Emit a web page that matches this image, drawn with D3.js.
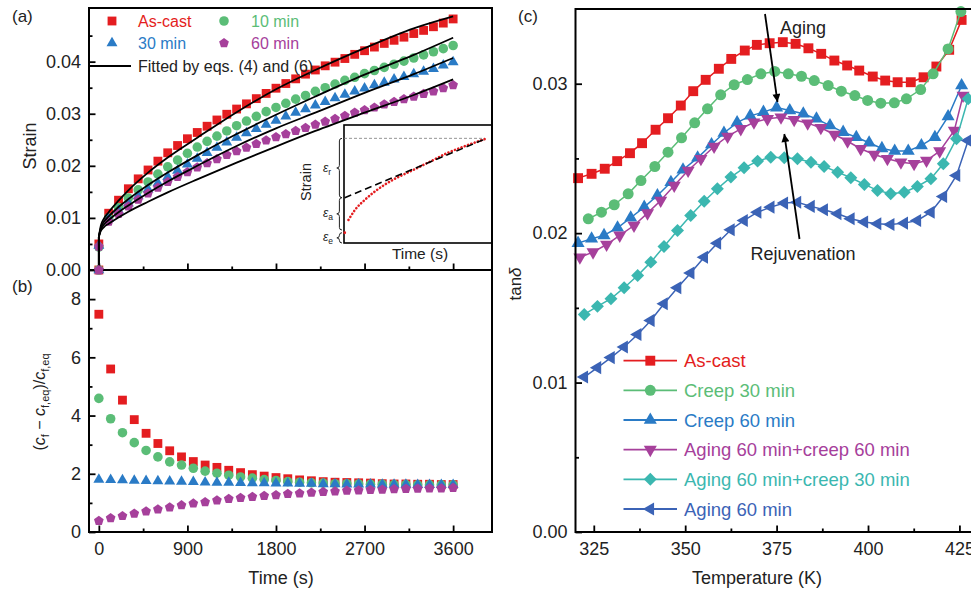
<!DOCTYPE html>
<html>
<head>
<meta charset="utf-8">
<script src="https://cdn.jsdelivr.net/npm/d3@7"></script>
<style>
  body { margin: 0; background: #fff; }
  svg { display: block; font-family: Arial, "Liberation Sans", sans-serif; }
  .tick line { stroke: #000; stroke-width: 1.8px; }
  .tick text { font-size: 18px; fill: #222; }
</style>
</head>
<body>
<div class="chart"></div>
<script>
// ---- panel (a): creep strain, markers every 100 s (first entry is the (0,0) start) ----
const timeA = [0, 0, 100, 200, 300, 400, 500, 600, 700, 800, 900, 1000, 1100, 1200, 1300, 1400, 1500, 1600, 1700, 1800,
  1900, 2000, 2100, 2200, 2300, 2400, 2500, 2600, 2700, 2800, 2900, 3000, 3100, 3200, 3300, 3400, 3500, 3600];
const strainAsCast = [0, 0.0050, 0.0109, 0.0134, 0.0156, 0.0175, 0.0192, 0.0209, 0.0225, 0.0239, 0.0252, 0.0264, 0.0276,
  0.0288, 0.0299, 0.0309, 0.0319, 0.0329, 0.0339, 0.0349, 0.0358, 0.0367, 0.0376, 0.0384, 0.0392, 0.0399, 0.0406,
  0.0414, 0.0421, 0.0428, 0.0435, 0.0441, 0.0447, 0.0454, 0.0460, 0.0467, 0.0474, 0.0482];
const strain10 = [0, 0.0044, 0.0100, 0.0120, 0.0138, 0.0154, 0.0169, 0.0184, 0.0198, 0.0211, 0.0224, 0.0236, 0.0247,
  0.0257, 0.0267, 0.0277, 0.0286, 0.0295, 0.0304, 0.0312, 0.0320, 0.0328, 0.0335, 0.0343, 0.0350, 0.0357, 0.0364,
  0.0370, 0.0377, 0.0383, 0.0389, 0.0395, 0.0401, 0.0407, 0.0413, 0.0419, 0.0425, 0.0431];
const strain30 = [0, 0.0047, 0.0098, 0.0114, 0.0128, 0.0142, 0.0155, 0.0167, 0.0179, 0.0191, 0.0203, 0.0214, 0.0225,
  0.0235, 0.0245, 0.0254, 0.0263, 0.0271, 0.0279, 0.0287, 0.0295, 0.0302, 0.0309, 0.0316, 0.0323, 0.0330, 0.0337,
  0.0343, 0.0349, 0.0355, 0.0360, 0.0366, 0.0371, 0.0376, 0.0381, 0.0386, 0.0393, 0.0399];
const strain60 = [0, 0.0045, 0.0093, 0.0108, 0.0122, 0.0135, 0.0147, 0.0158, 0.0169, 0.0179, 0.0188, 0.0197, 0.0205,
  0.0213, 0.0221, 0.0228, 0.0235, 0.0242, 0.0249, 0.0255, 0.0261, 0.0267, 0.0273, 0.0279, 0.0285, 0.0290, 0.0296,
  0.0302, 0.0307, 0.0312, 0.0318, 0.0323, 0.0328, 0.0333, 0.0338, 0.0343, 0.0349, 0.0355];

// fitted curves (eqs. 4 and 6)
const fitTime = [0, 0, 20, 50, 100, 200, 300, 500, 700, 1000, 1400, 1800, 2200, 2700, 3200, 3600];
const fitAsCast = [0, 0.0064, 0.0085, 0.0098, 0.0111, 0.0133, 0.0153, 0.0187, 0.0216, 0.0254, 0.0303, 0.0347, 0.0384, 0.0426, 0.0464, 0.0487];
const fit10 = [0, 0.0064, 0.0081, 0.0092, 0.0103, 0.0121, 0.0136, 0.0163, 0.0187, 0.0220, 0.0261, 0.0298, 0.0333, 0.0375, 0.0413, 0.0446];
const fit30 = [0, 0.0064, 0.0078, 0.0087, 0.0096, 0.0111, 0.0124, 0.0148, 0.0170, 0.0200, 0.0238, 0.0272, 0.0302, 0.0340, 0.0376, 0.0407];
const fit60 = [0, 0.0064, 0.0075, 0.0082, 0.0089, 0.0101, 0.0112, 0.0131, 0.0149, 0.0174, 0.0206, 0.0237, 0.0267, 0.0302, 0.0336, 0.0366];

// inset schematic (unitless 0..1)
const insetCurveX = [0.030, 0.074, 0.142, 0.232, 0.345, 0.468, 0.581, 0.694, 0.806, 0.953];
const insetCurveY = [0.195, 0.280, 0.367, 0.458, 0.545, 0.619, 0.689, 0.760, 0.816, 0.881];
const insetElastic = [0.005, 0.087];
const insetTangentX = [0.005, 0.953];
const insetTangentY = [0.384, 0.881];
const insetLevels = [0.887, 0.384, 0.11, 0.087, 0];
const insetLabels = ["r", "a", "e"];

// ---- panel (b): (cf - cf,eq)/cf,eq, markers every 120 s ----
const timeB = [0, 120, 240, 360, 480, 600, 720, 840, 960, 1080, 1200, 1320, 1440, 1560, 1680, 1800, 1920, 2040, 2160,
  2280, 2400, 2520, 2640, 2760, 2880, 3000, 3120, 3240, 3360, 3480, 3600];
const cfAsCast = [7.48, 5.60, 4.53, 3.86, 3.39, 3.04, 2.79, 2.58, 2.42, 2.30, 2.22, 2.12, 2.04, 1.97, 1.92, 1.87, 1.83,
  1.79, 1.76, 1.73, 1.71, 1.70, 1.69, 1.68, 1.66, 1.65, 1.65, 1.64, 1.64, 1.63, 1.63];
const cf10 = [4.59, 3.89, 3.41, 3.07, 2.80, 2.58, 2.41, 2.30, 2.19, 2.09, 2.02, 1.95, 1.89, 1.85, 1.80, 1.77, 1.73,
  1.71, 1.69, 1.68, 1.66, 1.66, 1.65, 1.64, 1.64, 1.63, 1.63, 1.62, 1.62, 1.62, 1.62];
const cf30 = [1.80, 1.79, 1.78, 1.77, 1.76, 1.75, 1.74, 1.73, 1.72, 1.71, 1.70, 1.70, 1.69, 1.68, 1.68, 1.67, 1.67,
  1.66, 1.66, 1.65, 1.65, 1.64, 1.64, 1.64, 1.63, 1.63, 1.63, 1.62, 1.62, 1.62, 1.62];
const cf60 = [0.38, 0.48, 0.55, 0.63, 0.71, 0.78, 0.85, 0.92, 0.98, 1.03, 1.09, 1.14, 1.17, 1.21, 1.24, 1.27, 1.31,
  1.33, 1.35, 1.38, 1.40, 1.42, 1.43, 1.45, 1.46, 1.47, 1.48, 1.49, 1.50, 1.50, 1.52];

const namesAB = ["As-cast", "10 min", "30 min", "60 min"];
const timeTicks = [0, 900, 1800, 2700, 3600];

// ---- panel (c): tan delta vs temperature ----
const tempAsCast = [320.7, 324.4, 328.0, 331.4, 334.9, 338.2, 341.9, 345.3, 348.8, 352.2, 355.6, 359.2, 362.6, 366.3,
  369.6, 373.1, 376.7, 380.2, 383.7, 387.2, 390.8, 394.3, 397.6, 401.3, 404.7, 408.1, 411.7, 415.2, 418.7, 422.2, 425.6];
const tanAsCast = [0.02368, 0.02397, 0.02431, 0.02482, 0.02535, 0.02602, 0.02692, 0.02769, 0.02854, 0.02950, 0.03026,
  0.03100, 0.03166, 0.03222, 0.03260, 0.03271, 0.03278, 0.03267, 0.03237, 0.03200, 0.03155, 0.03122, 0.03088, 0.03048,
  0.03021, 0.03010, 0.03010, 0.03043, 0.03115, 0.03227, 0.03427];
const tempCreep30 = [323.5, 327.1, 330.6, 334.4, 337.9, 341.7, 345.3, 349.0, 352.6, 356.1, 359.7, 363.4, 367.0, 370.7,
  374.5, 378.2, 381.8, 385.3, 389.1, 392.7, 396.4, 399.9, 403.5, 407.2, 410.5, 414.4, 417.8, 421.9, 425.4];
const tanCreep30 = [0.02096, 0.02140, 0.02190, 0.02263, 0.02352, 0.02446, 0.02542, 0.02638, 0.02738, 0.02832, 0.02926,
  0.02993, 0.03028, 0.03066, 0.03082, 0.03066, 0.03050, 0.03021, 0.02988, 0.02950, 0.02921, 0.02888, 0.02870, 0.02872,
  0.02899, 0.02961, 0.03066, 0.03233, 0.03483];
const tempCreep60 = [320.7, 324.4, 327.8, 331.5, 335.1, 338.8, 342.4, 346.1, 349.4, 353.4, 357.2, 360.6, 364.2, 367.8,
  371.4, 375.0, 378.6, 382.3, 385.9, 389.6, 393.2, 396.8, 400.3, 403.8, 407.3, 411.0, 414.6, 418.3, 421.9, 425.6];
const tanCreep60 = [0.01933, 0.01962, 0.01985, 0.02036, 0.02103, 0.02174, 0.02252, 0.02341, 0.02424, 0.02504, 0.02593,
  0.02670, 0.02740, 0.02785, 0.02810, 0.02840, 0.02821, 0.02799, 0.02765, 0.02720, 0.02676, 0.02642, 0.02605, 0.02567,
  0.02550, 0.02550, 0.02587, 0.02642, 0.02780, 0.02988];
const tempAgeCreep60 = [321.2, 324.8, 328.5, 332.1, 336.0, 339.7, 343.3, 347.0, 350.8, 354.3, 357.9, 361.6, 365.2, 368.8,
  372.5, 376.2, 379.8, 383.5, 387.1, 390.8, 394.4, 398.0, 401.7, 405.3, 409.0, 412.6, 416.0, 419.6, 423.6, 426.0];
const tanAgeCreep60 = [0.01839, 0.01873, 0.01924, 0.01985, 0.02051, 0.02134, 0.02219, 0.02319, 0.02419, 0.02498, 0.02580,
  0.02647, 0.02698, 0.02742, 0.02765, 0.02776, 0.02759, 0.02736, 0.02705, 0.02660, 0.02615, 0.02565, 0.02526, 0.02498,
  0.02475, 0.02464, 0.02486, 0.02549, 0.02687, 0.02921];
const tempAgeCreep30 = [322.4, 326.0, 329.7, 333.3, 337.0, 340.6, 344.2, 347.9, 351.5, 355.2, 358.8, 362.5, 366.1, 369.8,
  373.4, 377.1, 380.7, 384.4, 388.0, 391.7, 395.3, 399.0, 402.6, 406.2, 409.9, 413.5, 417.2, 420.6, 424.2, 427.4];
const tanAgeCreep30 = [0.01456, 0.01510, 0.01561, 0.01635, 0.01717, 0.01806, 0.01911, 0.02018, 0.02118, 0.02214, 0.02297,
  0.02375, 0.02437, 0.02482, 0.02508, 0.02504, 0.02498, 0.02475, 0.02446, 0.02408, 0.02371, 0.02326, 0.02286, 0.02264,
  0.02274, 0.02312, 0.02364, 0.02464, 0.02632, 0.02899];
const tempAging60 = [322.4, 326.0, 329.7, 333.3, 337.0, 340.6, 344.2, 347.9, 351.5, 355.2, 358.8, 362.5, 366.1, 369.8,
  373.4, 377.1, 380.7, 384.4, 388.0, 391.7, 395.3, 399.0, 402.6, 406.2, 409.9, 413.5, 417.2, 420.6, 424.2, 427.4];
const tanAging60 = [0.01037, 0.01100, 0.01167, 0.01238, 0.01322, 0.01416, 0.01528, 0.01635, 0.01733, 0.01839, 0.01933,
  0.02023, 0.02085, 0.02140, 0.02174, 0.02201, 0.02207, 0.02179, 0.02157, 0.02130, 0.02096, 0.02074, 0.02063, 0.02058,
  0.02067, 0.02085, 0.02140, 0.02245, 0.02386, 0.02620];
const namesC = ["As-cast", "Creep 30 min", "Creep 60 min", "Aging 60 min+creep 60 min", "Aging 60 min+creep 30 min", "Aging 60 min"];
const tempTicks = [325, 350, 375, 400, 425];
const tanTicks = [0, 0.01, 0.02, 0.03];

const RED = "#e41d20", GREEN = "#5bbd77", BLUE = "#2a7bc6", PURPLE = "#a6409b", TEAL = "#3bb7b0", NAVY = "#3b63b6";

const symbolPentagon = {
  draw(ctx, size) {
    const r = Math.sqrt(size / 2.3776);
    for (let i = 0; i < 5; i++) {
      const a = -Math.PI / 2 + i * 2 * Math.PI / 5;
      if (i) ctx.lineTo(r * Math.cos(a), r * Math.sin(a)); else ctx.moveTo(r * Math.cos(a), r * Math.sin(a));
    }
    ctx.closePath();
  }
};

const W = 971, H = 592;
const svg = d3.select(".chart").append("svg").attr("width", W).attr("height", H);

svg.append("defs").append("marker")
  .attr("id", "arrow").attr("markerUnits", "userSpaceOnUse")
  .attr("viewBox", "0 0 10 10").attr("refX", 10).attr("refY", 5)
  .attr("markerWidth", 11).attr("markerHeight", 8).attr("orient", "auto")
  .append("path").attr("d", "M0,0 L10,5 L0,10 Z").attr("fill", "#000");

function yAxis(scale, x, major, minor, fmt) {
  svg.append("g").attr("transform", `translate(${x},0)`)
    .call(d3.axisLeft(scale).tickValues(minor).tickSize(-3.5).tickFormat(""))
    .call(g => g.select(".domain").remove());
  svg.append("g").attr("transform", `translate(${x},0)`)
    .call(d3.axisLeft(scale).tickValues(major).tickSize(-6.5).tickPadding(8).tickFormat(fmt))
    .call(g => g.select(".domain").remove());
}
function xAxis(scale, y, major, minor, labels) {
  svg.append("g").attr("transform", `translate(0,${y})`)
    .call(d3.axisBottom(scale).tickValues(minor).tickSize(-3.5).tickFormat(""))
    .call(g => g.select(".domain").remove());
  svg.append("g").attr("transform", `translate(0,${y})`)
    .call(d3.axisBottom(scale).tickValues(major).tickSize(-6.5).tickPadding(10).tickFormat(labels ? d3.format("d") : ""))
    .call(g => g.select(".domain").remove());
}
function symbolPath(type, size) { return d3.symbol().type(type).size(size)(); }

// ================= panel (a) =================
const xT = d3.scaleLinear().domain([-100, 3995]).range([89, 492]);
const yA = d3.scaleLinear().domain([0, 0.0503]).range([270, 8]);
const yB = d3.scaleLinear().domain([0, 9]).range([532, 270]);

const seriesA = [
  { v: strainAsCast, fit: fitAsCast, cf: cfAsCast, color: RED, type: d3.symbolSquare, size: 78 },
  { v: strain10, fit: fit10, cf: cf10, color: GREEN, type: d3.symbolCircle, size: 72 },
  { v: strain30, fit: fit30, cf: cf30, color: BLUE, type: d3.symbolTriangle, size: 52 },
  { v: strain60, fit: fit60, cf: cf60, color: PURPLE, type: symbolPentagon, size: 62 }
];

// markers
seriesA.forEach(s => {
  svg.append("g").selectAll("path").data(timeA).join("path")
    .attr("transform", (t, i) => `translate(${xT(t)},${yA(s.v[i])})`)
    .attr("d", symbolPath(s.type, s.size)).attr("fill", s.color);
});

// fitted curves: vertical jump at t=0, then smooth curve
const fitLine = d3.line().x(d => xT(d[0])).y(d => yA(d[1])).curve(d3.curveMonotoneX);
seriesA.forEach(s => {
  const pts = fitTime.map((t, i) => [t, s.fit[i]]);
  svg.append("path").attr("d", `M${xT(0)},${yA(0)}L${xT(0)},${yA(s.fit[1])}`)
    .attr("stroke", "#000").attr("stroke-width", 1.8).attr("fill", "none");
  svg.append("path").attr("d", fitLine(pts.slice(1)))
    .attr("stroke", "#000").attr("stroke-width", 1.8).attr("fill", "none");
});

// legend (a)
const legA = [[112, 21, 138], [224, 21, 251], [112, 43, 138], [224, 43, 251]];
seriesA.forEach((s, i) => {
  const p = legA[i];
  svg.append("path").attr("transform", `translate(${p[0]},${p[1]})`)
    .attr("d", symbolPath(s.type, s.size)).attr("fill", s.color);
  svg.append("text").attr("x", p[2]).attr("y", p[1]).attr("dy", "0.36em")
    .attr("font-size", 16).attr("fill", s.color).text(namesAB[i]);
});
svg.append("line").attr("x1", 90).attr("x2", 131).attr("y1", 66).attr("y2", 66)
  .attr("stroke", "#000").attr("stroke-width", 1.8);
svg.append("text").attr("x", 138).attr("y", 66).attr("dy", "0.36em")
  .attr("font-size", 16).attr("fill", "#222").text("Fitted by eqs. (4) and (6)");

// inset
const ix = d3.scaleLinear().domain([0, 1]).range([344, 492]);
const iy = d3.scaleLinear().domain([0, 1]).range([243, 125]);
svg.append("rect").attr("x", 344).attr("y", 125).attr("width", 148).attr("height", 118)
  .attr("fill", "#fff").attr("stroke", "#000").attr("stroke-width", 1.6);
svg.append("line").attr("x1", ix(0)).attr("x2", ix(insetCurveX[insetCurveX.length - 1]))
  .attr("y1", iy(insetLevels[0])).attr("y2", iy(insetLevels[0]))
  .attr("stroke", "#777").attr("stroke-width", 0.8).attr("stroke-dasharray", "3,2");
svg.append("path")
  .attr("d", d3.line().x(d => ix(d[0])).y(d => iy(d[1])).curve(d3.curveMonotoneX)(insetCurveX.map((x, i) => [x, insetCurveY[i]])))
  .attr("fill", "none").attr("stroke", RED).attr("stroke-width", 2.6)
  .attr("stroke-linecap", "round").attr("stroke-dasharray", "0.1,3.4");
svg.append("circle").attr("cx", ix(insetElastic[0])).attr("cy", iy(insetElastic[1])).attr("r", 1.4).attr("fill", RED);
svg.append("line").attr("x1", ix(insetTangentX[0])).attr("x2", ix(insetTangentX[1]))
  .attr("y1", iy(insetTangentY[0])).attr("y2", iy(insetTangentY[1]))
  .attr("stroke", "#000").attr("stroke-width", 1.5).attr("stroke-dasharray", "7,4");

function brace(x, y1, y2, w) {
  w = Math.min(w, (y2 - y1) / 4);
  const m = (y1 + y2) / 2;
  return `M${x},${y1}Q${x - w},${y1} ${x - w},${y1 + w}L${x - w},${m - w}Q${x - w},${m} ${x - 2 * w},${m}` +
    `Q${x - w},${m} ${x - w},${m + w}L${x - w},${y2 - w}Q${x - w},${y2} ${x},${y2}`;
}
[[0, 1], [1, 2], [3, 4]].forEach((pair, i) => {
  const y1 = iy(insetLevels[pair[0]]), y2 = iy(insetLevels[pair[1]]);
  svg.append("path").attr("d", brace(342, y1, y2, 2.6))
    .attr("fill", "none").attr("stroke", "#222").attr("stroke-width", 1);
  const t = svg.append("text").attr("x", 323).attr("y", (y1 + y2) / 2).attr("dy", "0.3em")
    .attr("font-size", 12).attr("fill", "#222").attr("font-style", "italic");
  t.append("tspan").text("ε");
  t.append("tspan").attr("dy", 3).attr("font-size", 8.5).attr("font-style", "normal").text(insetLabels[i]);
});
svg.append("text").attr("transform", "translate(311,182) rotate(-90)").attr("text-anchor", "middle")
  .attr("font-size", 14.5).attr("fill", "#222").text("Strain");
svg.append("text").attr("x", 420).attr("y", 259).attr("text-anchor", "middle")
  .attr("font-size", 15.5).attr("fill", "#222").text("Time (s)");

yAxis(yA, 89, [0, 0.01, 0.02, 0.03, 0.04], [0.005, 0.015, 0.025, 0.035, 0.045], d3.format(".2f"));
xAxis(xT, 270, timeTicks, [450, 1350, 2250, 3150], false);

// ================= panel (b) =================
seriesA.forEach(s => {
  svg.append("g").selectAll("path").data(timeB).join("path")
    .attr("transform", (t, i) => `translate(${xT(t)},${yB(s.cf[i])})`)
    .attr("d", symbolPath(s.type, s.size)).attr("fill", s.color);
});
yAxis(yB, 89, [0, 2, 4, 6, 8], [1, 3, 5, 7], d3.format("d"));
xAxis(xT, 532, timeTicks, [450, 1350, 2250, 3150], true);

svg.append("rect").attr("x", 89).attr("y", 8).attr("width", 403).attr("height", 262)
  .attr("fill", "none").attr("stroke", "#000").attr("stroke-width", 2);
svg.append("rect").attr("x", 89).attr("y", 270).attr("width", 403).attr("height", 262)
  .attr("fill", "none").attr("stroke", "#000").attr("stroke-width", 2);
// purple start point sits on the shared border
svg.append("path").attr("transform", `translate(${xT(timeA[0])},${yA(strain60[0])})`)
  .attr("d", symbolPath(symbolPentagon, 62)).attr("fill", PURPLE);

svg.append("text").attr("x", 281).attr("y", 584).attr("text-anchor", "middle")
  .attr("font-size", 18).attr("fill", "#222").text("Time (s)");
svg.append("text").attr("transform", "translate(36,146) rotate(-90)").attr("text-anchor", "middle")
  .attr("font-size", 18).attr("fill", "#222").text("Strain");

// (cf - cf,eq)/cf,eq label
const cfLabel = svg.append("text").attr("transform", "translate(45,402) rotate(-90)")
  .attr("text-anchor", "middle").attr("font-size", 16).attr("fill", "#222");
cfLabel.append("tspan").text("(");
cfLabel.append("tspan").attr("font-style", "italic").text("c");
cfLabel.append("tspan").attr("font-size", 11).attr("dy", 4).text("f");
cfLabel.append("tspan").attr("dy", -4).text(" − ");
cfLabel.append("tspan").attr("font-style", "italic").text("c");
cfLabel.append("tspan").attr("font-size", 11).attr("dy", 4).text("f,eq");
cfLabel.append("tspan").attr("dy", -4).text(")/");
cfLabel.append("tspan").attr("font-style", "italic").text("c");
cfLabel.append("tspan").attr("font-size", 11).attr("dy", 4).text("f,eq");

svg.append("text").attr("x", 12).attr("y", 22).attr("font-size", 17).attr("fill", "#222").text("(a)");
svg.append("text").attr("x", 12).attr("y", 292).attr("font-size", 17).attr("fill", "#222").text("(b)");

// ================= panel (c) =================
const xC = d3.scaleLinear().domain([320, 430]).range([575.5, 977.7]);
const yC = d3.scaleLinear().domain([0, 0.035]).range([532, 9]);

const seriesC = [
  { T: tempAsCast, v: tanAsCast, color: RED, type: d3.symbolSquare, size: 98, rot: 0 },
  { T: tempCreep30, v: tanCreep30, color: GREEN, type: d3.symbolCircle, size: 95, rot: 0 },
  { T: tempCreep60, v: tanCreep60, color: BLUE, type: d3.symbolTriangle, size: 74, rot: 0 },
  { T: tempAgeCreep60, v: tanAgeCreep60, color: PURPLE, type: d3.symbolTriangle, size: 74, rot: 180 },
  { T: tempAgeCreep30, v: tanAgeCreep30, color: TEAL, type: d3.symbolSquare, size: 84, rot: 45 },
  { T: tempAging60, v: tanAging60, color: NAVY, type: d3.symbolTriangle, size: 74, rot: -90 }
];
const lineC = d3.line().x(d => xC(d[0])).y(d => yC(d[1]));
seriesC.forEach(s => {
  const pts = s.T.map((t, i) => [t, s.v[i]]);
  svg.append("path").attr("d", lineC(pts)).attr("fill", "none")
    .attr("stroke", s.color).attr("stroke-width", 1.5);
  svg.append("g").selectAll("path").data(pts).join("path")
    .attr("transform", d => `translate(${xC(d[0])},${yC(d[1])}) rotate(${s.rot})`)
    .attr("d", symbolPath(s.type, s.size)).attr("fill", s.color);
});

// legend (c)
const legY = [360.7, 390.3, 420, 449.6, 479.3, 509];
seriesC.forEach((s, i) => {
  svg.append("line").attr("x1", 623.5).attr("x2", 677).attr("y1", legY[i]).attr("y2", legY[i])
    .attr("stroke", s.color).attr("stroke-width", 1.8);
  svg.append("path").attr("transform", `translate(650.3,${legY[i]}) rotate(${s.rot})`)
    .attr("d", symbolPath(s.type, s.size)).attr("fill", s.color);
  svg.append("text").attr("x", 684).attr("y", legY[i]).attr("dy", "0.36em")
    .attr("font-size", 18.5).attr("fill", s.color).text(namesC[i]);
});

// annotations
svg.append("line").attr("x1", 765).attr("y1", 14).attr("x2", 777.5).attr("y2", 102)
  .attr("stroke", "#000").attr("stroke-width", 1.8).attr("marker-end", "url(#arrow)");
svg.append("text").attr("x", 780).attr("y", 34).attr("font-size", 18).attr("fill", "#222").text("Aging");
svg.append("line").attr("x1", 799.5).attr("y1", 239).attr("x2", 784.3).attr("y2", 134)
  .attr("stroke", "#000").attr("stroke-width", 1.8).attr("marker-end", "url(#arrow)");
svg.append("text").attr("x", 750.5).attr("y", 260).attr("font-size", 18).attr("fill", "#222").text("Rejuvenation");

yAxis(yC, 575.5, tanTicks, [0.005, 0.015, 0.025], d3.format(".2f"));
xAxis(xC, 532, tempTicks, [337.5, 362.5, 387.5, 412.5], true);
svg.append("rect").attr("x", 575.5).attr("y", 9).attr("width", 430).attr("height", 523)
  .attr("fill", "none").attr("stroke", "#000").attr("stroke-width", 2);

svg.append("text").attr("x", 757).attr("y", 584).attr("text-anchor", "middle")
  .attr("font-size", 18).attr("fill", "#222").text("Temperature (K)");
const tanLabel = svg.append("text").attr("transform", "translate(521,284) rotate(-90)")
  .attr("text-anchor", "middle").attr("font-size", 17).attr("fill", "#222");
tanLabel.append("tspan").text("tan");
tanLabel.append("tspan").attr("font-style", "italic").text("δ");
svg.append("text").attr("x", 518).attr("y", 22).attr("font-size", 17).attr("fill", "#222").text("(c)");
</script>
</body>
</html>
